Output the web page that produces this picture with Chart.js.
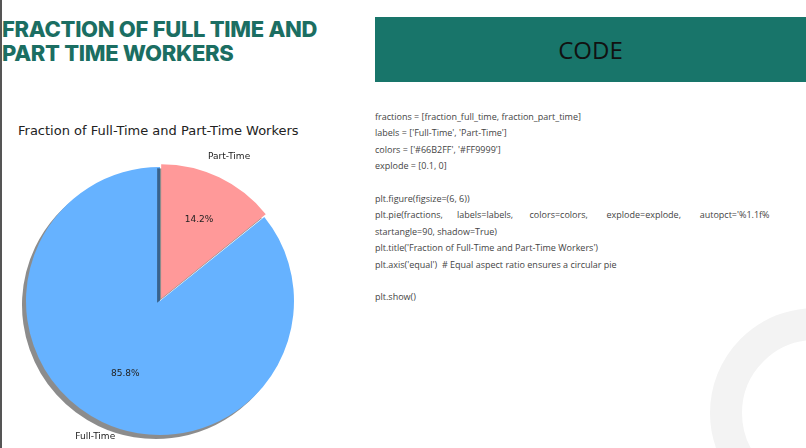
<!DOCTYPE html>
<html><head><meta charset="utf-8">
<script src="https://cdn.jsdelivr.net/npm/chart.js@4"></script>
<style>
body{margin:0;width:806px;height:448px;position:relative;overflow:hidden;background:#fff;font-family:"Open Sans",sans-serif}
#title{position:absolute;left:2px;top:17px;font:800 22px/24px Inter,"Open Sans",sans-serif;color:#1b6e62;letter-spacing:-0.3px}
#code{position:absolute;left:375px;top:17px;width:431px;height:65px;background:#18756a;color:#111;font:400 24px/65px "Open Sans",sans-serif;text-align:center}
#src{position:absolute;left:375px;top:109px;width:431px;font:9px/16.4px "Open Sans",sans-serif;color:#444;white-space:pre}
#ring{position:absolute;left:710px;top:308px;width:210px;height:210px;border-radius:50%;border:32px solid #f3f3f3;box-sizing:border-box}
#lb{position:absolute;left:0;top:0;width:2px;height:448px;background:#555}
#ct{position:absolute;left:18px;top:123px;font:13px "DejaVu Sans",sans-serif;color:#222}
#wrap{position:absolute;left:10px;top:151px;width:300px;height:300px}
</style></head><body>
<div id="lb"></div>
<div id="title">FRACTION OF FULL TIME AND<br>PART TIME WORKERS</div>
<div id="code">CODE</div>
<div id="ring"></div>
<div id="src">fractions = [fraction_full_time, fraction_part_time]
labels = ['Full-Time', 'Part-Time']
colors = ['#66B2FF', '#FF9999']
explode = [0.1, 0]

plt.figure(figsize=(6, 6))
plt.pie(fractions,      labels=labels,       colors=colors,        explode=explode,        autopct='%1.1f%
startangle=90, shadow=True)
plt.title('Fraction of Full-Time and Part-Time Workers')
plt.axis('equal')  # Equal aspect ratio ensures a circular pie

plt.show()</div>
<div id="ct">Fraction of Full-Time and Part-Time Workers</div>
<div id="wrap"><canvas id="c"></canvas></div>
<script>
const categories = ['Full-Time', 'Part-Time'];
const values = [85.8, 14.2];
const colors = ['#66B2FF', '#FF9999'];

const shadowPlugin = {
  id: 'shadow',
  beforeDatasetDraw(chart) {
    const ctx = chart.ctx; ctx.save();
    ctx.shadowColor = 'rgba(0,0,0,0.45)'; ctx.shadowOffsetX = -4; ctx.shadowOffsetY = 4; ctx.shadowBlur = 0;
  },
  afterDatasetDraw(chart) {
    chart.ctx.restore();
    const ctx = chart.ctx;
    const arcs = chart.getDatasetMeta(0).data;
    ctx.save();
    ctx.font = '9px "DejaVu Sans", sans-serif';
    ctx.textAlign = 'center'; ctx.textBaseline = 'middle';
    arcs.forEach((a, i) => {
      const mid = (a.startAngle + a.endAngle) / 2;
      const r = a.outerRadius;
      const off = a.options.offset || 0;
      const cx = a.x + Math.cos(mid) * off, cy = a.y + Math.sin(mid) * off;
      ctx.fillStyle = '#222';
      ctx.fillText(values[i].toFixed(1) + '%', cx + Math.cos(mid) * r * 0.6, cy + Math.sin(mid) * r * 0.6);
      ctx.fillText(categories[i], cx + Math.cos(mid) * r * 1.12, cy + Math.sin(mid) * r * 1.12);
    });
    ctx.restore();
  }
};

new Chart(document.getElementById('c'), {
  type: 'pie',
  data: { labels: categories, datasets: [{ data: values, backgroundColor: colors, borderWidth: 0, offset: [0, 10] }] },
  options: {
    responsive: true, maintainAspectRatio: false, animation: false,
    rotation: values[1] / 100 * 360,
    radius: 134,
    layout: { padding: 0 },
    plugins: { legend: { display: false }, tooltip: { enabled: false } }
  },
  plugins: [shadowPlugin]
});
</script>
</body></html>
